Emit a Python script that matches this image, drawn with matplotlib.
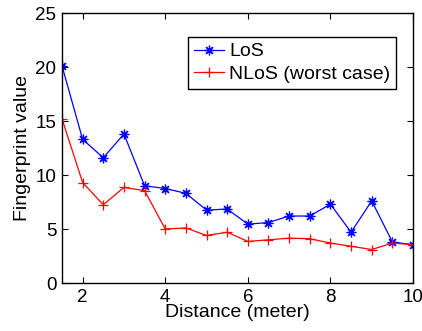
import numpy as np
import matplotlib
matplotlib.use("Agg")
import matplotlib.pyplot as plt

plt.rcParams['font.family'] = ['Liberation Sans', 'DejaVu Sans']

distance = [1.5, 2, 2.5, 3, 3.5, 4, 4.5, 5, 5.5, 6, 6.5, 7, 7.5, 8, 8.5, 9, 9.5, 10]
los = [20.1, 13.3, 11.6, 13.8, 9.0, 8.75, 8.3, 6.75, 6.85, 5.45, 5.6, 6.2, 6.2, 7.3, 4.7, 7.6, 3.8, 3.55]
nlos = [15.2, 9.3, 7.25, 8.85, 8.55, 5.0, 5.1, 4.4, 4.7, 3.85, 4.0, 4.15, 4.1, 3.7, 3.4, 3.1, 3.7, 3.55]

fig = plt.figure(figsize=(4.22, 3.31), dpi=100)
ax = fig.add_axes([62/422, 1 - 283/331, 351/422, 270/331])

# matlab style asterisk / plus markers
ax.plot(distance, los, color='blue', marker=(8, 2, 0), markersize=7, markeredgewidth=0.9,
        linewidth=0.9, label='LoS')
ax.plot(distance, nlos, color='red', marker='+', markersize=7, markeredgewidth=0.9,
        linewidth=0.9, label='NLoS (worst case)')

ax.set_xlim(1.5, 10)
ax.set_ylim(0, 25)
ax.set_xticks([2, 4, 6, 8, 10])
ax.set_yticks([0, 5, 10, 15, 20, 25])
ax.tick_params(direction='in', top=True, right=True, length=4, labelsize=13.5, pad=4)
for s in ax.spines.values():
    s.set_linewidth(1.0)

ax.set_xlabel('Distance (meter)', fontsize=14, labelpad=-1)
ax.set_ylabel('Fingerprint value', fontsize=14, labelpad=3)

leg = ax.legend(loc='upper right', bbox_to_anchor=(396/422, 1 - 37/331), bbox_transform=fig.transFigure,
                fontsize=14, fancybox=False, framealpha=1, edgecolor='black',
                handlelength=1.55, handletextpad=0.25, borderpad=0.3, labelspacing=0.25, borderaxespad=0)
leg.get_frame().set_linewidth(1.0)

fig.savefig('out.png', dpi=100)
